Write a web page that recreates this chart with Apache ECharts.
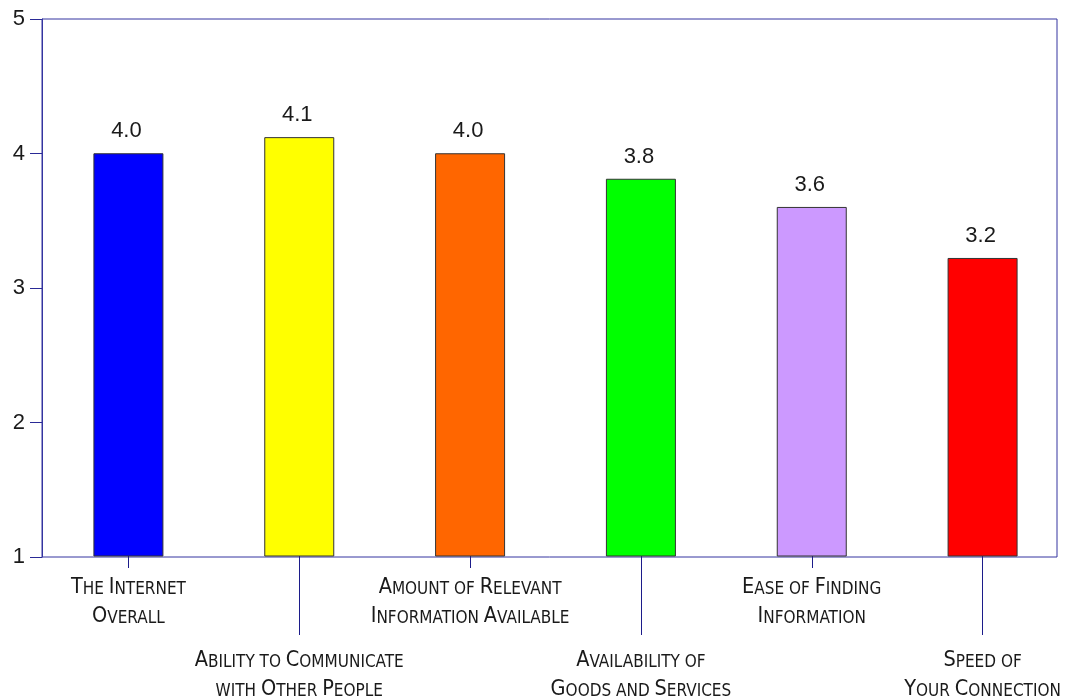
<!DOCTYPE html>
<html>
<head>
<meta charset="utf-8">
<title>Internet satisfaction ratings</title>
<script src="https://cdn.jsdelivr.net/npm/echarts@6/dist/echarts.min.js"></script>
<style>
  html, body { margin: 0; padding: 0; background: #ffffff; }
  #chart { width: 1073px; height: 700px; }
</style>
</head>
<body>
<div id="chart"></div>
<script>
// Rating categories (line breaks mark where each label wraps)
const categories = [
  'The Internet\nOverall',
  'Ability to Communicate\nwith Other People',
  'Amount of Relevant\nInformation Available',
  'Availability of\nGoods and Services',
  'Ease of Finding\nInformation',
  'Speed of\nYour Connection'
];
// Mean rating for each category
const ratings = [4.0, 4.12, 4.0, 3.81, 3.6, 3.22];
// Fill colour of each bar
const barColors = ['#0000ff', '#ffff00', '#ff6600', '#00ff00', '#cc99ff', '#ff0000'];
// Value axis range and step
const yMin = 1;
const yMax = 5;
const yStep = 1;

const LINE = '#3434a0';
const TEXT = '#1a1a1a';
const LABEL_FONT = '"DejaVu Sans Condensed", "Liberation Sans Narrow", "Liberation Sans", sans-serif';
const NUM_FONT = '"Liberation Sans", Arial, sans-serif';

// Turn "The Internet" into small-caps rich text: capitals stay large,
// lower-case letters become smaller capitals.
function smallCaps(text) {
  return text.split('\n').map(function (line) {
    let out = '';
    let run = '';
    let kind = null;
    for (const ch of line) {
      let k;
      if (ch === ' ') k = kind || 's';
      else k = (ch >= 'a' && ch <= 'z') ? 's' : 'b';
      if (kind !== null && k !== kind && run) {
        out += '{' + kind + '|' + run + '}';
        run = '';
      }
      kind = k;
      run += ch.toUpperCase();
    }
    if (run) out += '{' + kind + '|' + run + '}';
    return out;
  }).join('\n');
}

const capsRich = {
  b: { fontFamily: LABEL_FONT, fontSize: 21.5, color: TEXT, lineHeight: 29, verticalAlign: 'bottom' },
  s: { fontFamily: LABEL_FONT, fontSize: 17, color: TEXT, lineHeight: 29, verticalAlign: 'bottom' }
};

function categoryAxis(showEven, tickLen, margin) {
  const pick = function (i) { return (i % 2 === 0) === showEven; };
  return {
    type: 'category',
    gridIndex: 1,
    position: 'bottom',
    data: categories,
    axisLine: { show: false },
    axisTick: {
      show: true,
      alignWithLabel: true,
      interval: pick,
      length: tickLen,
      lineStyle: { color: '#1c1c8a', width: 1 }
    },
    axisLabel: {
      show: true,
      interval: pick,
      margin: margin,
      formatter: function (v) { return smallCaps(v); },
      rich: capsRich
    },
    splitLine: { show: false }
  };
}

const chart = echarts.init(document.getElementById('chart'), null, { renderer: 'canvas' });

chart.setOption({
  animation: false,
  backgroundColor: '#ffffff',
  grid: [
    // framed plot box carrying the value axis
    { left: 42, right: 16, top: 19, bottom: 143, show: true, borderColor: LINE, borderWidth: 1, backgroundColor: 'transparent' },
    // bar layout band
    { left: 43, right: 5, top: 19, bottom: 143, show: false }
  ],
  xAxis: [
    { type: 'value', gridIndex: 0, show: false, min: 0, max: 1 },
    categoryAxis(true, 12, 13),
    categoryAxis(false, 79, 86)
  ],
  yAxis: [
    {
      type: 'value',
      gridIndex: 0,
      min: yMin,
      max: yMax,
      interval: yStep,
      axisLine: { show: true, lineStyle: { color: LINE, width: 1 } },
      axisTick: { show: true, inside: false, length: 12, lineStyle: { color: '#2a2a96', width: 1 } },
      axisLabel: { margin: 17, fontFamily: NUM_FONT, fontSize: 22, color: TEXT },
      splitLine: { show: false }
    },
    { type: 'value', gridIndex: 1, min: yMin, max: yMax, interval: yStep, show: false, splitLine: { show: false } }
  ],
  series: [
    {
      type: 'bar',
      xAxisIndex: 1,
      yAxisIndex: 1,
      clip: true,
      barWidth: 70,
      data: ratings.map(function (v, i) {
        return {
          value: v,
          itemStyle: { color: barColors[i], borderColor: '#333333', borderWidth: 1 }
        };
      }),
      label: {
        show: true,
        position: 'top',
        distance: 11,
        offset: [-2, 0],
        fontFamily: NUM_FONT,
        fontSize: 22,
        color: TEXT,
        formatter: function (p) { return p.value.toFixed(1); }
      }
    }
  ]
});
</script>
</body>
</html>
